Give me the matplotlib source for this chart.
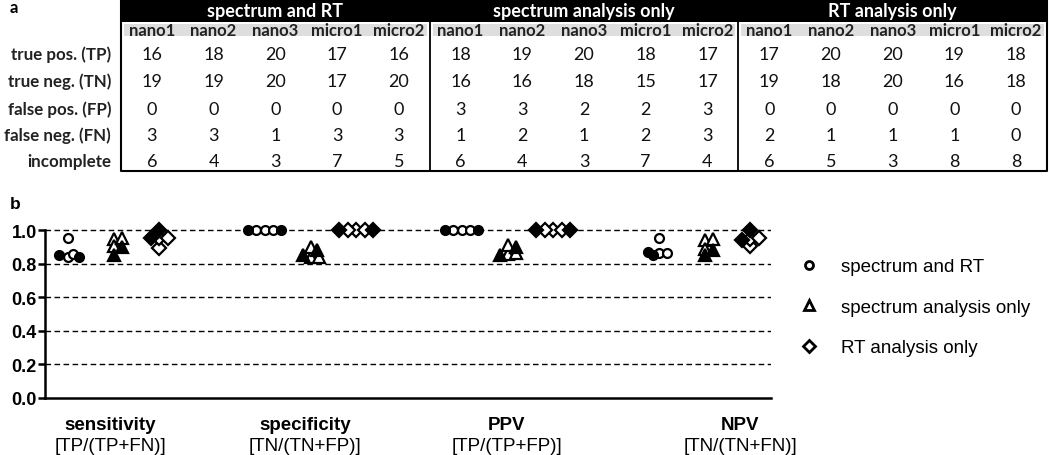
import numpy as np
import matplotlib.pyplot as plt
from matplotlib.patches import Rectangle
from matplotlib.lines import Line2D

# ---------------------------------------------------------------- data
methods = ["spectrum and RT", "spectrum analysis only", "RT analysis only"]
samples = ["nano1", "nano2", "nano3", "micro1", "micro2"]
row_labels = ["true pos. (TP)", "true neg. (TN)", "false pos. (FP)", "false neg. (FN)", "incomplete"]

tp = [[16, 18, 20, 17, 16], [18, 19, 20, 18, 17], [17, 20, 20, 19, 18]]
tn = [[19, 19, 20, 17, 20], [16, 16, 18, 15, 17], [19, 18, 20, 16, 18]]
fp = [[0, 0, 0, 0, 0], [3, 3, 2, 2, 3], [0, 0, 0, 0, 0]]
fn = [[3, 3, 1, 3, 3], [1, 2, 1, 2, 3], [2, 1, 1, 1, 0]]
incomplete = [[6, 4, 3, 7, 5], [6, 4, 3, 7, 4], [6, 5, 3, 8, 8]]

metrics = ["sensitivity", "specificity", "PPV", "NPV"]
formulas = ["[TP/(TP+FN)]", "[TN/(TN+FP)]", "[TP/(TP+FP)]", "[TN/(TN+FN)]"]

TP, TN, FP, FN = (np.array(a, dtype=float) for a in (tp, tn, fp, fn))
scores = [TP / (TP + FN), TN / (TN + FP), TP / (TP + FP), TN / (TN + FN)]

# ---------------------------------------------------------------- figure
fig = plt.figure(figsize=(10.5, 4.56), dpi=100)
tab = fig.add_axes([0, 0, 1, 1])
tab.set_xlim(0, 1050)
tab.set_ylim(456, 0)
tab.axis("off")

tfont = "Lato"
tleft, tright = 121, 1047
gw = (tright - tleft) / 3
cw = gw / 5
row_y = [55, 82, 110, 136, 162]

tab.text(10, 8, "a", fontsize=12, fontweight="bold", family=tfont, va="center")
tab.add_patch(Rectangle((tleft, 0), tright - tleft, 23, color="black", lw=0))
for g, name in enumerate(methods):
    gl = tleft + g * gw
    tab.add_patch(Rectangle((gl + 3, 24.5), gw - 6, 12.5, color="#dedede", lw=0))
    tab.text(gl + gw / 2, 12, name, color="white", fontsize=13, fontweight="bold",
             family=tfont, ha="center", va="center")
    for c, s in enumerate(samples):
        cx = gl + (c + 0.5) * cw
        tab.text(cx, 30.5, s, fontsize=12, fontweight="bold", color="#222222",
                 family=tfont, ha="center", va="center")
        vals = [tp[g][c], tn[g][c], fp[g][c], fn[g][c], incomplete[g][c]]
        for r, v in enumerate(vals):
            tab.text(cx, row_y[r], str(v), fontsize=13, family=tfont, color="#111111",
                     ha="center", va="center")
    if g > 0:
        tab.plot([gl, gl], [23, 172], color="black", lw=1.3)
tab.plot([tleft, tleft, tright, tright], [0, 172, 172, 0], color="black", lw=1.5)
for r, lab in enumerate(row_labels):
    tab.text(111, row_y[r], lab, fontsize=12.2, fontweight="bold", color="#222222",
             family=tfont, ha="right", va="center")

# ---------------------------------------------------------------- panel b
pfont = "Liberation Sans"
tab.text(10, 205, "b", fontsize=12.5, fontweight="bold", family=pfont, va="center")

ax = fig.add_axes([45 / 1050, 57 / 456, 726 / 1050, 181.4 / 456])
ax.set_xlim(-0.35, 3.335)
ax.set_ylim(0, 1.08)
for side in ("top", "right"):
    ax.spines[side].set_visible(False)
ax.spines["left"].set_bounds(0, 1)
ax.spines["left"].set_linewidth(1.8)
ax.spines["bottom"].set_linewidth(1.8)
ax.set_xticks([])
ax.set_yticks(np.arange(0, 1.01, 0.2))
ax.set_yticklabels([f"{t:.1f}" for t in np.arange(0, 1.01, 0.2)],
                   fontsize=13, fontweight="bold", family=pfont)
ax.tick_params(axis="y", length=5, width=1.8, pad=1)
for yv in np.arange(0.2, 1.01, 0.2):
    ax.axhline(yv, color="black", lw=1.0, ls=(0, (4, 2.5)), zorder=1)

px_y, px_x = 168.0, 197.0


def swarm(vals, step=2.8, mind=6.0):
    placed = []
    cands = [0.0] + [s * n * step for n in range(1, 40) for s in (1, -1)]
    for v in vals:
        y = v * px_y
        for dx in cands:
            if all(np.hypot(dx - qx, y - qy) >= mind for qx, qy in placed):
                break
        placed.append((dx, y))
    return [q[0] / px_x for q in placed]


markers = ["o", "^", "D"]
msizes = [6.4, 8.5, 6.8]
moffs = [-0.235, 0.0, 0.23]
label_x = [-0.02, 0.97, 1.995, 3.18]

for k, sc in enumerate(scores):
    for m in range(3):
        offs = swarm(sc[m])
        for i in range(5):
            filled = samples[i].startswith("micro")
            ax.plot(k + moffs[m] + offs[i], sc[m][i], marker=markers[m], ms=msizes[m],
                    mew=1.6, mec="black", mfc="black" if filled else "white",
                    ls="none", clip_on=False, zorder=3)
    ax.text(label_x[k], -0.155, metrics[k], fontsize=13.5, fontweight="bold",
            family=pfont, ha="center", va="center")
    ax.text(label_x[k], -0.285, formulas[k], fontsize=13.5, family=pfont,
            ha="center", va="center")

handles = [Line2D([], [], marker=markers[m], ms=msizes[m] * 0.9, mew=2.0, mec="black",
                  mfc="white", ls="none") for m in range(3)]
fig.legend(handles, methods, loc="upper left", bbox_to_anchor=(799.5 / 1050, 1 - 259 / 456),
           frameon=False, handlelength=1.0, handletextpad=1.2, labelspacing=1.25,
           borderpad=0, borderaxespad=0, prop={"family": pfont, "size": 13.5})

fig.savefig("out.png", dpi=100)
